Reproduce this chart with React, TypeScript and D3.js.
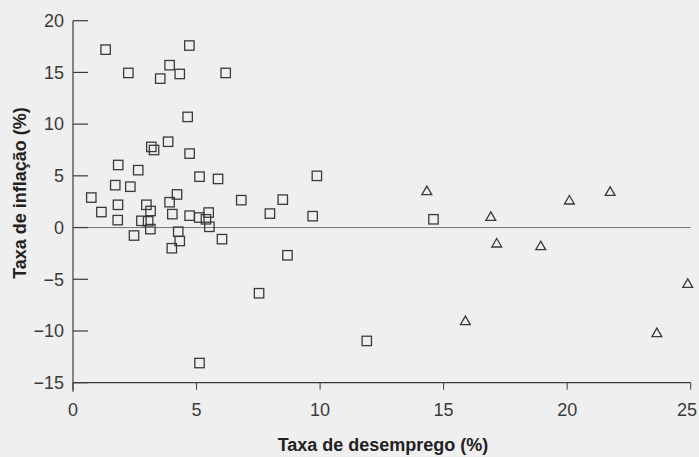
import React from "react";
import * as d3 from "d3";

const squareX = [1.32, 4.71, 2.24, 3.53, 3.91, 4.32, 6.18, 4.64, 3.85, 3.17, 3.28, 4.72, 1.83, 2.64, 5.12, 5.87, 9.87, 1.71, 2.32, 0.74, 4.21, 3.91, 2.97, 1.82, 3.14, 1.15, 1.81, 2.77, 3.04, 3.13, 4.02, 4.72, 5.11, 5.49, 5.38, 5.52, 6.81, 8.49, 7.97, 9.7, 2.47, 4.26, 4.32, 4.0, 6.03, 8.68, 7.53, 5.12, 11.89, 14.59];
const squareY = [17.2, 17.6, 14.95, 14.4, 15.7, 14.85, 14.95, 10.7, 8.3, 7.8, 7.5, 7.15, 6.05, 5.55, 4.92, 4.7, 5.0, 4.1, 3.95, 2.9, 3.2, 2.45, 2.2, 2.2, 1.6, 1.5, 0.72, 0.65, 0.6, -0.15, 1.3, 1.15, 0.97, 1.45, 0.8, 0.07, 2.65, 2.7, 1.35, 1.1, -0.77, -0.4, -1.3, -2.0, -1.12, -2.68, -6.35, -13.1, -10.96, 0.8];
const triX = [14.32, 16.91, 17.15, 18.93, 20.09, 21.74, 15.88, 23.63, 24.88];
const triY = [3.55, 1.07, -1.51, -1.77, 2.65, 3.48, -9.02, -10.18, -5.41];
const xTicks = [0, 5, 10, 15, 20, 25];
const yTicks = [20, 15, 10, 5, 0, -5, -10, -15];
const xTitle = "Taxa de desemprego (%)";
const yTitle = "Taxa de inflação (%)";

export default function App() {
  const W = 699, H = 457;
  const x = d3.scaleLinear().domain([0, 25]).range([73, 690.7]);
  const y = d3.scaleLinear().domain([-15, 20]).range([382.7, 20.7]);
  const ink = "#3a3a3a";
  const fontFam = "'Liberation Sans', Arial, Helvetica, sans-serif";
  const fmt = (v: number) => (v < 0 ? "\u2212" + Math.abs(v) : String(v));
  const tri = d3.symbol().type(d3.symbolTriangle).size(42);
  return (
    <svg width={W} height={H} style={{ position: "absolute", left: 0, top: 0 }} fontFamily={fontFam}>
      <rect width={W} height={H} fill="#efefef" />
      <line x1={x(0)} x2={x(25)} y1={y(0)} y2={y(0)} stroke="#777" strokeWidth={1} />
      <line x1={x(0)} x2={x(0)} y1={y(20)} y2={y(-15) + 9} stroke={ink} strokeWidth={1.2} />
      <line x1={x(0)} x2={x(25)} y1={y(-15)} y2={y(-15)} stroke={ink} strokeWidth={1.2} />
      {yTicks.map((t) => (
        <g key={"yt" + t}>
          <line x1={x(0)} x2={x(0) + 15} y1={y(t)} y2={y(t)} stroke={ink} strokeWidth={1.2} />
          <text x={x(0) - 9} y={y(t)} dy="0.35em" textAnchor="end" fontSize={18} fill={ink}>
            {fmt(t)}
          </text>
        </g>
      ))}
      {xTicks.map((t) => (
        <g key={"xt" + t}>
          <line x1={x(t)} x2={x(t)} y1={y(-15)} y2={y(-15) + 7} stroke={ink} strokeWidth={1} />
          <text x={Math.min(x(t), W - 12)} y={410} dy="0.35em" textAnchor="middle" fontSize={18} fill={ink}>
            {t}
          </text>
        </g>
      ))}
      <text x={383} y={445} dy="0.35em" textAnchor="middle" fontSize={18} fontWeight="bold" fill="#222">
        {xTitle}
      </text>
      <text transform={`translate(20,193) rotate(-90)`} textAnchor="middle" dy="0.35em" fontSize={18} fontWeight="bold" fill="#222">
        {yTitle}
      </text>
      {squareX.map((v, i) => (
        <rect key={"s" + i} x={x(v) - 4.7} y={y(squareY[i]) - 4.7} width={9.4} height={9.4} fill="none" stroke={ink} strokeWidth={1.3} />
      ))}
      {triX.map((v, i) => (
        <path key={"t" + i} d={tri() || ""} transform={`translate(${x(v)},${y(triY[i]) + 1})`} fill="none" stroke={ink} strokeWidth={1.3} />
      ))}
    </svg>
  );
}
